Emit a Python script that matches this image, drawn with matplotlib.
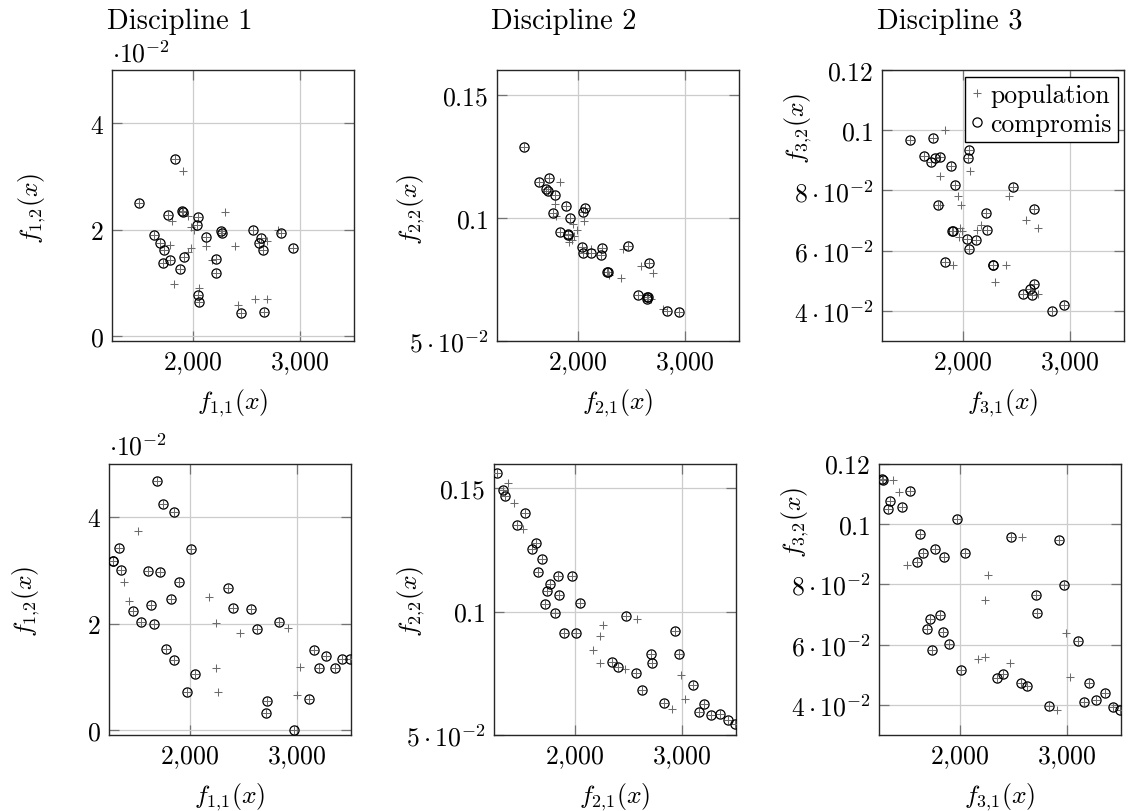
import numpy as np
import matplotlib
matplotlib.use('Agg')
import matplotlib.pyplot as plt
from matplotlib.lines import Line2D

plt.rcParams['mathtext.fontset'] = 'cm'
plt.rcParams['font.family'] = 'serif'
plt.rcParams['font.serif'] = ['cmr10']
plt.rcParams['axes.formatter.use_mathtext'] = True

# ---- run 1 (top row) ----
# discipline 1, y values in units of 1e-2
t1_pop_x = [1907, 1805, 1960, 1984, 2015, 1787, 1984, 1954, 2126, 2299, 2398, 2176, 1830, 2059, 2423, 2583, 2694, 2688, 2793]
t1_pop_y = [3.11, 2.16, 2.26, 2.06, 1.99, 1.72, 1.66, 1.59, 1.69, 2.33, 1.70, 1.44, 0.98, 0.90, 0.59, 0.69, 0.69, 1.78, 1.99]
t1_comp_x = [1836, 1497, 1768, 1904, 1910, 2052, 2040, 1639, 1700, 1738, 1787, 1725, 1923, 1886, 2120,
             2262, 2275, 2219, 2219, 2046, 2062, 2454, 2663, 2558, 2639, 2620, 2657, 2824, 2932]
t1_comp_y = [3.33, 2.50, 2.28, 2.35, 2.33, 2.23, 2.08, 1.91, 1.76, 1.61, 1.44, 1.38, 1.49, 1.26, 1.86,
             1.98, 1.93, 1.45, 1.18, 0.78, 0.64, 0.43, 0.46, 2.00, 1.85, 1.76, 1.61, 1.93, 1.66]

# discipline 2
t2_pop_x = [1836, 1786, 1799, 1954, 1991, 1966, 1916, 1947, 2062, 2127, 2294, 2402, 2424, 2588, 2703, 2678, 2796]
t2_pop_y = [0.1147, 0.1058, 0.1007, 0.0973, 0.0949, 0.0926, 0.0903, 0.0909, 0.0986, 0.0872, 0.0766, 0.0754,
            0.0874, 0.0804, 0.0776, 0.0672, 0.0631]
t2_comp_x = [1502, 1638, 1731, 1706, 1724, 1793, 1889, 1774, 1929, 2065, 2053, 1839, 1907, 1913, 2040,
             2053, 2127, 2223, 2220, 2272, 2279, 2464, 2666, 2563, 2641, 2653, 2644, 2830, 2938]
t2_comp_y = [0.1288, 0.1146, 0.1161, 0.1115, 0.1109, 0.1093, 0.1046, 0.1020, 0.1000, 0.1039, 0.1023, 0.0941,
             0.0934, 0.0931, 0.0880, 0.0859, 0.0858, 0.0877, 0.0849, 0.0782, 0.0781, 0.0884, 0.0816, 0.0688,
             0.0680, 0.0677, 0.0672, 0.0623, 0.0619]

# discipline 3
t3_pop_x = [1833, 1790, 2065, 1957, 1981, 1787, 2432, 2590, 2701, 1975, 1997, 2173, 2136, 1963, 1914, 2401, 2296, 2698]
t3_pop_y = [0.1001, 0.0849, 0.0866, 0.0781, 0.0752, 0.0752, 0.0782, 0.0702, 0.0676, 0.0676, 0.0665, 0.0686,
            0.0667, 0.0645, 0.0551, 0.0553, 0.0495, 0.0455]
t3_comp_x = [1506, 1728, 1642, 1710, 1741, 1793, 1889, 2062, 2049, 1929, 1775, 1904, 1910, 2219, 2222,
             2043, 2123, 2059, 1840, 2278, 2284, 2466, 2667, 2660, 2623, 2562, 2645, 2830, 2938]
t3_comp_y = [0.0968, 0.0973, 0.0913, 0.0896, 0.0907, 0.0910, 0.0880, 0.0934, 0.0907, 0.0817, 0.0753, 0.0666,
             0.0665, 0.0725, 0.0668, 0.0638, 0.0637, 0.0604, 0.0564, 0.0553, 0.0551, 0.0810, 0.0739, 0.0489,
             0.0472, 0.0455, 0.0453, 0.0398, 0.0420]

# ---- run 2 (bottom row) ----
b1_pop_x = [1519, 1389, 1438, 2176, 2241, 2469, 2910, 2241, 2268, 3028, 2994]
b1_pop_y = [3.73, 2.77, 2.43, 2.49, 2.01, 1.82, 1.91, 1.16, 0.72, 1.18, 0.66]
b1_comp_x = [1697, 1750, 1852, 1343, 1287, 1290, 1361, 1608, 1725, 1901, 2015, 1827, 1639, 1472, 1543, 1664,
             1778, 1858, 2049, 1975, 2352, 2401, 2571, 2630, 2827, 3157, 3265, 3200, 3349, 3420, 3491,
             2722, 2710, 3105, 2966]
b1_comp_y = [4.68, 4.25, 4.09, 3.42, 3.18, 3.17, 3.01, 2.98, 2.96, 2.78, 3.40, 2.46, 2.34, 2.24, 2.02, 2.00,
             1.52, 1.32, 1.05, 0.72, 2.66, 2.29, 2.28, 1.89, 2.03, 1.50, 1.39, 1.17, 1.17, 1.34, 1.34,
             0.55, 0.33, 0.59, 0.00]

b2_pop_x = [1381, 1433, 1520, 2579, 2263, 2238, 2170, 2238, 2467, 2991, 3025, 2907]
b2_pop_y = [0.1520, 0.1438, 0.1334, 0.0970, 0.0945, 0.0901, 0.0843, 0.0791, 0.0768, 0.0742, 0.0645, 0.0605]
b2_comp_x = [1279, 1331, 1353, 1539, 1464, 1638, 1604, 1693, 1656, 1845, 1972, 1774, 1746, 1854, 1721, 1817,
             2046, 1898, 2009, 2474, 2929, 2706, 2718, 2966, 2350, 2399, 2570, 2625, 2827, 3102, 3201,
             3158, 3266, 3350, 3421, 3492]
b2_comp_y = [0.1561, 0.1491, 0.1470, 0.1399, 0.1351, 0.1276, 0.1255, 0.1215, 0.1159, 0.1146, 0.1145, 0.1112,
             0.1082, 0.1066, 0.1030, 0.0996, 0.1036, 0.0914, 0.0912, 0.0982, 0.0923, 0.0830, 0.0792, 0.0830,
             0.0796, 0.0776, 0.0750, 0.0681, 0.0631, 0.0701, 0.0624, 0.0595, 0.0582, 0.0584, 0.0561, 0.0546]

b3_pop_x = [1381, 1433, 1514, 2263, 2238, 2579, 2170, 2238, 2467, 2991, 3025, 2907]
b3_pop_y = [0.1145, 0.1107, 0.0865, 0.0831, 0.0746, 0.0957, 0.0553, 0.0560, 0.0539, 0.0639, 0.0493, 0.0383]
b3_comp_x = [1279, 1285, 1539, 1353, 1331, 1464, 1972, 1635, 1656, 1774, 1854, 1604, 2046, 2474, 2923, 2966,
             2706, 2718, 1817, 1721, 1693, 1845, 1898, 1746, 2009, 2350, 2399, 2570, 2625, 3102, 3201,
             3158, 3266, 3350, 3421, 3492, 2827]
b3_comp_y = [0.1147, 0.1145, 0.1109, 0.1077, 0.1050, 0.1056, 0.1017, 0.0966, 0.0903, 0.0918, 0.0891, 0.0872,
             0.0902, 0.0957, 0.0947, 0.0797, 0.0765, 0.0706, 0.0699, 0.0683, 0.0652, 0.0642, 0.0602, 0.0582,
             0.0516, 0.0488, 0.0503, 0.0474, 0.0461, 0.0610, 0.0472, 0.0411, 0.0415, 0.0438, 0.0394, 0.0384,
             0.0396]

titles = ['Discipline 1', 'Discipline 2', 'Discipline 3']
xticks = [2000, 3000]
xticklabels = [r'$2{,}000$', r'$3{,}000$']
ticks_d1 = [0.0, 0.02, 0.04]
labels_d1 = [r'$0$', r'$2$', r'$4$']
ticks_d2 = [0.05, 0.1, 0.15]
labels_d2 = [r'$5\cdot10^{-2}$', r'$0.1$', r'$0.15$']
ticks_d3 = [0.04, 0.06, 0.08, 0.1, 0.12]
labels_d3 = [r'$4\cdot10^{-2}$', r'$6\cdot10^{-2}$', r'$8\cdot10^{-2}$', r'$0.1$', r'$0.12$']

W, H = 1130, 812
FS = 18.5


def px_box(left, top, right, bottom):
    return [left / W, 1 - bottom / H, (right - left) / W, (bottom - top) / H]


def draw(ax, pop_x, pop_y, comp_x, comp_y, ylim, yticks, yticklabels):
    ax.plot(np.r_[pop_x, comp_x], np.r_[pop_y, comp_y], ls='none', marker='+',
            ms=6, mew=0.75, color='0.42', zorder=3)
    ax.plot(comp_x, comp_y, ls='none', marker='o', ms=6.6, mfc='none',
            mec='black', mew=0.9, zorder=4)
    ax.set_xlim(1250, 3500)
    ax.set_ylim(*ylim)
    ax.set_xticks(xticks)
    ax.set_xticklabels(xticklabels)
    ax.set_yticks(yticks)
    ax.set_yticklabels(yticklabels)
    ax.grid(True, color='0.8', lw=0.9)
    ax.set_axisbelow(True)
    ax.tick_params(direction='in', length=7, width=0.9, color='0.45',
                   top=True, right=True, labelsize=FS, pad=6)
    for s in ax.spines.values():
        s.set_linewidth(1.0)
        s.set_color('0.15')


fig = plt.figure(figsize=(W / 100, H / 100), dpi=100)

rows = [
    ([112, 497, 882], 71, 342,
     [(t1_pop_x, np.array(t1_pop_y) * 1e-2, t1_comp_x, np.array(t1_comp_y) * 1e-2),
      (t2_pop_x, t2_pop_y, t2_comp_x, t2_comp_y),
      (t3_pop_x, t3_pop_y, t3_comp_x, t3_comp_y)]),
    ([109, 494, 879], 464.5, 736,
     [(b1_pop_x, np.array(b1_pop_y) * 1e-2, b1_comp_x, np.array(b1_comp_y) * 1e-2),
      (b2_pop_x, b2_pop_y, b2_comp_x, b2_comp_y),
      (b3_pop_x, b3_pop_y, b3_comp_x, b3_comp_y)]),
]
ylims = [(-0.0009, 0.05), (0.05, 0.16), (0.03, 0.12)]
yticks = [ticks_d1, ticks_d2, ticks_d3]
yticklabels = [labels_d1, labels_d2, labels_d3]
ylabel_pos = [[(32, 208), (411, 209), (798, 128)],
              [(26, 601), (411, 601), (795, 522)]]

axes = []
for r, (lefts, top, bottom, panels) in enumerate(rows):
    for c in range(3):
        ax = fig.add_axes(px_box(lefts[c], top, lefts[c] + 242, bottom))
        px, py, cx, cy = panels[c]
        draw(ax, px, py, cx, cy, ylims[c], yticks[c], yticklabels[c])
        ax.set_xlabel(r'$f_{%d{,}1}(x)$' % (c + 1), fontsize=FS, labelpad=7)
        yx, yy = ylabel_pos[r][c]
        fig.text(yx / W, 1 - yy / H, r'$f_{%d{,}2}(x)$' % (c + 1), fontsize=FS,
                 rotation=90, ha='center', va='center')
        axes.append(ax)
    # scale label of discipline 1
    fig.text(lefts[0] / W, 1 - (top - 17) / H, r'$\cdot10^{-2}$', fontsize=FS,
             ha='left', va='center')

for name, x in zip(titles, [180, 564, 950]):
    fig.text(x / W, 1 - 22 / H, name, fontsize=20.5, ha='center', va='center')

handles = [Line2D([], [], ls='none', marker='+', ms=6, mew=0.75, color='0.42'),
           Line2D([], [], ls='none', marker='o', ms=6.6, mfc='none', mec='black', mew=0.9)]
leg = axes[2].legend(handles, ['population', 'compromis'], loc='upper right',
                     bbox_to_anchor=((1118 - 882) / 242, 1 - 7 / 271), borderaxespad=0,
                     fontsize=FS, fancybox=False, framealpha=1, edgecolor='black',
                     handlelength=0.5, handletextpad=0.25, borderpad=0.25, labelspacing=0.2)
leg.get_frame().set_linewidth(1.0)

fig.savefig('out.png', dpi=100)
